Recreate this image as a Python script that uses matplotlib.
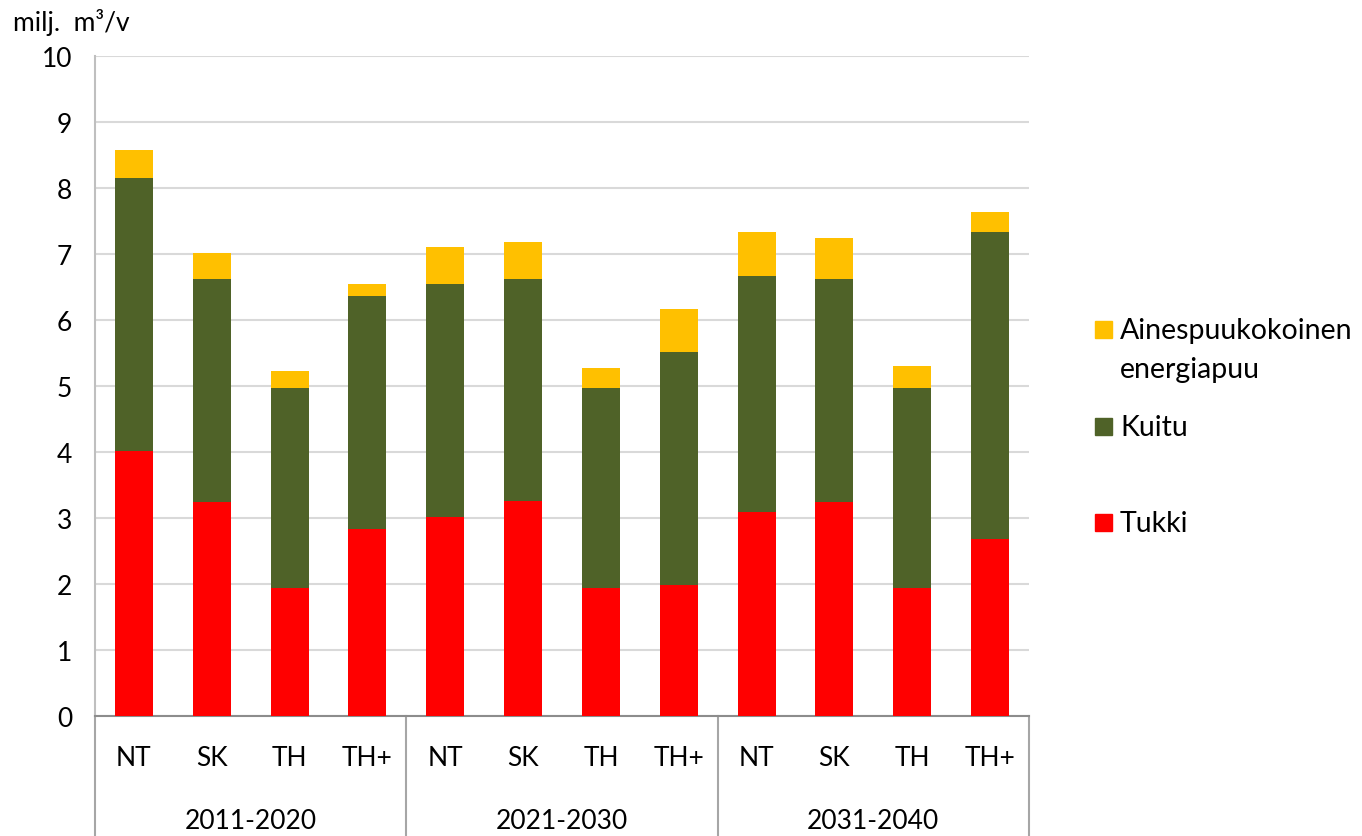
import numpy as np
import matplotlib.pyplot as plt
from matplotlib.patches import Rectangle

plt.rcParams['font.family'] = ['Lato', 'DejaVu Sans']

# data (milj. m3/v)
periods = ['2011-2020', '2021-2030', '2031-2040']
scenarios = ['NT', 'SK', 'TH', 'TH+']
tukki = [4.02, 3.24, 1.94, 2.84,
         3.01, 3.26, 1.94, 1.98,
         3.09, 3.24, 1.94, 2.68]
kuitu = [4.13, 3.38, 3.03, 3.52,
         3.53, 3.36, 3.03, 3.54,
         3.57, 3.38, 3.03, 4.66]
energia = [0.43, 0.40, 0.25, 0.18,
           0.56, 0.56, 0.31, 0.64,
           0.68, 0.62, 0.33, 0.29]

series = [('Tukki', tukki, '#FF0000'),
          ('Kuitu', kuitu, '#4F6228'),
          ('Ainespuukokoinen\nenergiapuu', energia, '#FFC000')]

fig = plt.figure(figsize=(13.62, 8.37), dpi=100)
ax = fig.add_axes([95 / 1362, 120 / 837, 934 / 1362, 660 / 837])

x = np.arange(len(tukki))
bottom = np.zeros(len(tukki))
for name, vals, col in series:
    ax.bar(x, vals, width=0.49, bottom=bottom, color=col, zorder=3)
    bottom += np.array(vals)

ax.set_xlim(-0.5, len(tukki) - 0.5)
ax.set_ylim(0, 10)
ax.set_yticks(range(0, 11))
ax.grid(axis='y', color='#d9d9d9', linewidth=1.5, zorder=0)
ax.tick_params(axis='y', length=0, pad=16.5, labelsize=19, colors='#000000')
ax.tick_params(axis='x', length=0, pad=21, labelsize=19)
ax.set_xticks(x)
ax.set_xticklabels(scenarios * len(periods))

for s in ['top', 'right']:
    ax.spines[s].set_visible(False)
ax.spines['left'].set_color('#bfbfbf')
ax.spines['left'].set_linewidth(1.5)
ax.spines['bottom'].set_color('#8c8c8c')
ax.spines['bottom'].set_linewidth(1.5)

# group separators and period labels under the axis
tr = ax.get_xaxis_transform()
n = len(scenarios)
for i in range(len(periods) + 1):
    xs = i * n - 0.5
    ax.plot([xs, xs], [0, -0.19], transform=tr, color='#a6a6a6',
            linewidth=1.5, clip_on=False)
for i, p in enumerate(periods):
    ax.text(i * n + (n - 1) / 2, -0.158, p, transform=tr, ha='center',
            va='center', fontsize=19)

fig.text(13 / 1362, 1 - 22 / 837, 'milj.  m\u00b3/v', ha='left', va='center',
         fontsize=19)

# legend, top entry first
leg_y = [330, 427, 523]
for (name, vals, col), yy in zip(series[::-1], leg_y):
    fig.patches.append(Rectangle((1095 / 1362, 1 - (yy + 8.5) / 837),
                                 17 / 1362, 17 / 837, color=col,
                                 transform=fig.transFigure))
    fig.text(1120 / 1362, 1 - (yy - 12) / 837, name, ha='left', va='top',
             fontsize=20.5, linespacing=1.6)

fig.savefig('out.png', dpi=100)
